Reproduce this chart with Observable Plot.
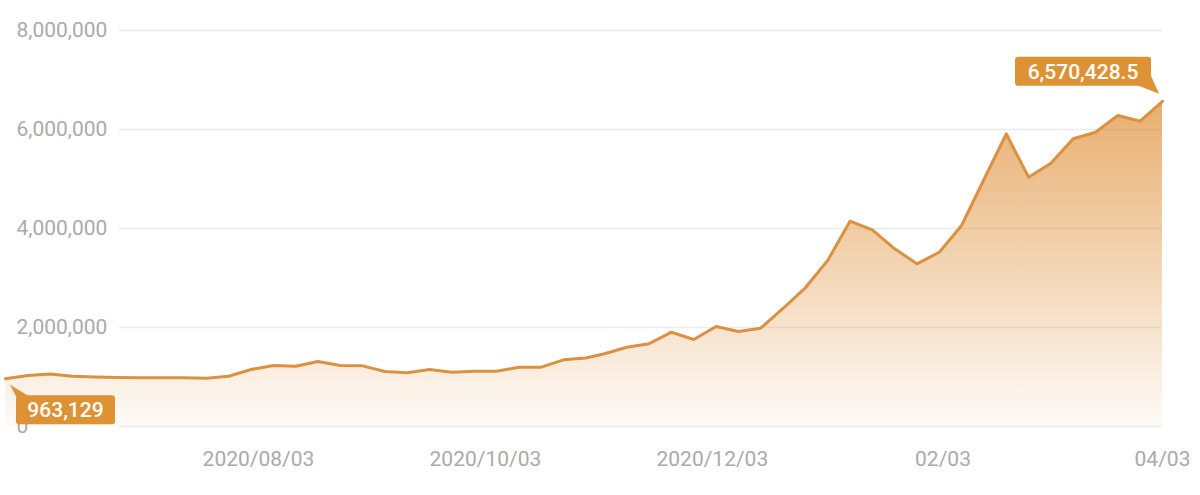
<!DOCTYPE html>
<html><head><meta charset="utf-8">
<script src="https://cdn.jsdelivr.net/npm/d3@7"></script>
<script src="https://cdn.jsdelivr.net/npm/@observablehq/plot@0.6"></script>
<style>body{margin:0;background:#fff;font-family:Roboto,sans-serif}</style>
</head><body><div id="chart"></div>
<script>
const dates = [
  "2020-05-27","2020-06-02","2020-06-08","2020-06-14","2020-06-20","2020-06-26",
  "2020-07-02","2020-07-08","2020-07-14","2020-07-20","2020-07-26","2020-08-01",
  "2020-08-07","2020-08-13","2020-08-19","2020-08-25","2020-08-31","2020-09-06",
  "2020-09-12","2020-09-18","2020-09-24","2020-09-30","2020-10-06","2020-10-12",
  "2020-10-18","2020-10-24","2020-10-30","2020-11-04","2020-11-10","2020-11-16",
  "2020-11-22","2020-11-28","2020-12-04","2020-12-10","2020-12-16","2020-12-22",
  "2020-12-28","2021-01-03","2021-01-09","2021-01-15","2021-01-21","2021-01-27",
  "2021-02-02","2021-02-08","2021-02-14","2021-02-20","2021-02-26","2021-03-04",
  "2021-03-10","2021-03-16","2021-03-22","2021-03-28","2021-04-03"
];
const values = [
  963129, 1030000, 1060000, 1016000, 1000000, 990000,
  984000, 984000, 985000, 975000, 1016000, 1151000,
  1232000, 1218000, 1313000, 1232000, 1225000, 1111000,
  1085000, 1151000, 1097000, 1117000, 1117000, 1198000,
  1198000, 1347000, 1384000, 1469000, 1602000, 1671000,
  1905000, 1758000, 2020000, 1919000, 1986000, 2384000,
  2802000, 3353000, 4147000, 3974000, 3590000, 3287000,
  3521000, 4061000, 4990000, 5913000, 5036000, 5319000,
  5812000, 5945000, 6283000, 6168000, 6570428.5
];
const yTicks = [0, 2000000, 4000000, 6000000, 8000000];
const xTickDates = ["2020-08-03","2020-10-03","2020-12-03","2021-02-03","2021-04-03"];
const xTickLabels = ["2020/08/03","2020/10/03","2020/12/03","02/03","04/03"];
const startLabel = "963,129";
const endLabel = "6,570,428.5";

const data = dates.map((d, i) => ({date: new Date(d), value: values[i]}));
const fmt = d3.format(",");

const plot = Plot.plot({
  width: 1200, height: 495,
  marginLeft: 5, marginRight: 38, marginTop: 30, marginBottom: 69,
  x: {type: "utc", domain: [new Date(dates[0]), new Date(dates[dates.length - 1])], axis: null},
  y: {domain: [0, 8000000], axis: null},
  style: {fontFamily: "Roboto, sans-serif", background: "white", overflow: "visible"},
  marks: [
    Plot.ruleY(yTicks, {stroke: "#ebebeb", strokeWidth: 1.5, insetLeft: 114}),
    Plot.areaY(data, {x: "date", y: "value", fill: "url(#areaGrad)"}),
    Plot.lineY(data, {x: "date", y: "value", stroke: "#db9140", strokeWidth: 3, strokeLinejoin: "round"}),
    Plot.text(yTicks, {y: d => d, frameAnchor: "left", lineAnchor: "middle", dx: 11, textAnchor: "start", text: d => fmt(d), fill: "#aaaaaa", fontSize: 21}),
    Plot.text(xTickDates, {x: d => new Date(d), frameAnchor: "bottom", lineAnchor: "middle", dy: 33, text: (d, i) => xTickLabels[i], fill: "#aaaaaa", fontSize: 21})
  ]
});

const svg = d3.select(plot);
const defs = svg.insert("defs", ":first-child");
const grad = defs.append("linearGradient").attr("id", "areaGrad").attr("x1", 0).attr("y1", 0).attr("x2", 0).attr("y2", 1);
grad.append("stop").attr("offset", "0%").attr("stop-color", "rgb(222,140,50)").attr("stop-opacity", 0.7);
grad.append("stop").attr("offset", "100%").attr("stop-color", "rgb(222,140,50)").attr("stop-opacity", 0.04);

const sx = plot.scale("x"), sy = plot.scale("y");
const fx = sx.apply ? d => sx.apply(d) : d3.scaleUtc(sx.domain, sx.range);
const fy = sy.apply ? d => sy.apply(d) : d3.scaleLinear(sy.domain, sy.range);

const boxColor = "#de9236";
const ann = svg.append("g");
// start annotation
{
  const px = fx(data[0].date), py = fy(data[0].value);
  ann.append("polygon").attr("fill", boxColor)
    .attr("points", [[px + 5, py + 6.5], [px + 11, py + 18], [px + 24, py + 18]].map(p => p.join(",")).join(" "));
  ann.append("rect").attr("fill", boxColor).attr("rx", 3)
    .attr("x", px + 11).attr("y", py + 17).attr("width", 99).attr("height", 29);
  ann.append("text").attr("x", px + 60.5).attr("y", py + 31.5).attr("dy", "0.35em")
    .attr("text-anchor", "middle").attr("fill", "white").attr("font-size", 21).attr("font-weight", 500)
    .text(startLabel);
}
// end annotation
{
  const last = data[data.length - 1];
  const px = fx(last.date), py = fy(last.value);
  ann.append("polygon").attr("fill", boxColor)
    .attr("points", [[px - 26, py - 16], [px - 11, py - 25], [px - 3, py - 7]].map(p => p.join(",")).join(" "));
  ann.append("rect").attr("fill", boxColor).attr("rx", 3)
    .attr("x", px - 147).attr("y", py - 44).attr("width", 136).attr("height", 29);
  ann.append("text").attr("x", px - 79).attr("y", py - 29.5).attr("dy", "0.35em")
    .attr("text-anchor", "middle").attr("fill", "white").attr("font-size", 21).attr("font-weight", 500)
    .text(endLabel);
}

document.getElementById("chart").appendChild(plot);
</script>
</body></html>
